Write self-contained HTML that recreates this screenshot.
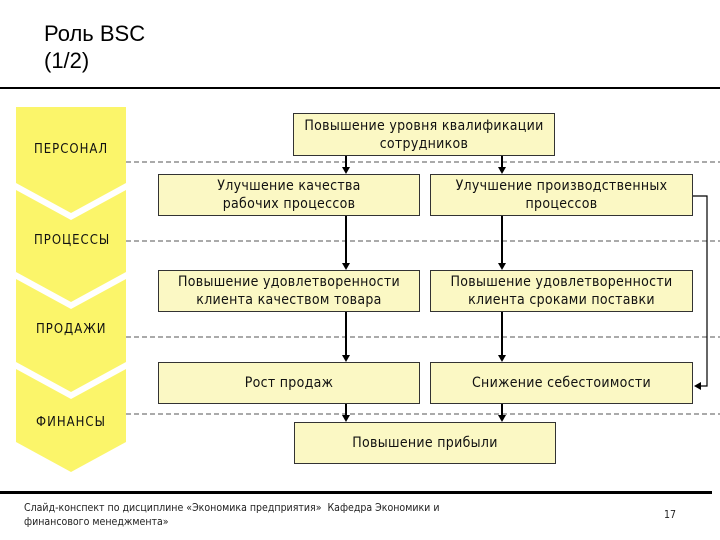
<!DOCTYPE html>
<html><head><meta charset="utf-8"><style>
body{margin:0;width:720px;height:540px;background:#fff;overflow:hidden;position:relative;font-family:"Liberation Sans","DejaVu Sans",sans-serif}
.t{position:absolute;left:44px;font-size:22px;color:#000}
.b{position:absolute;background:#fbf8c4;border:1px solid #333;box-sizing:border-box;display:flex;align-items:center;justify-content:center;text-align:center;font-size:14px;line-height:18px;color:#111;font-family:"DejaVu Sans Condensed","DejaVu Sans",sans-serif;letter-spacing:0.3px;white-space:nowrap}
.l{position:absolute;font-size:13px;color:#111;font-family:"DejaVu Sans Condensed","DejaVu Sans",sans-serif;letter-spacing:1px}
.f{position:absolute;font-size:10.5px;color:#222;font-family:"DejaVu Sans Condensed","DejaVu Sans",sans-serif;letter-spacing:0px;white-space:nowrap}
</style></head><body>
<div class="t" style="top:21px">Роль BSC</div>
<div class="t" style="top:48px">(1/2)</div>
<svg width="720" height="540" style="position:absolute;left:0;top:0">
<rect x="0" y="87" width="720" height="2" fill="#000"/>
<rect x="0" y="491" width="712" height="3" fill="#000"/>
<g fill="#fbf56a">
<polygon points="16,107 126,107 126,183 71,213 16,183"/>
<polygon points="16,190 71,220 126,190 126,272 71,302 16,272"/>
<polygon points="16,279 71,309 126,279 126,362 71,392 16,362"/>
<polygon points="16,369 71,399 126,369 126,442 71,472 16,442"/>
</g>
<g stroke="#555" stroke-dasharray="5,3" stroke-width="1">
<line x1="126" y1="162" x2="720" y2="162"/>
<line x1="126" y1="241" x2="720" y2="241"/>
<line x1="126" y1="337" x2="720" y2="337"/>
<line x1="126" y1="414" x2="720" y2="414"/>
</g>
<g stroke="#000" stroke-width="2">
<line x1="346" y1="156" x2="346" y2="168"/><line x1="502" y1="156" x2="502" y2="168"/>
<line x1="346" y1="216" x2="346" y2="264"/><line x1="502" y1="216" x2="502" y2="264"/>
<line x1="346" y1="312" x2="346" y2="356"/><line x1="502" y1="312" x2="502" y2="356"/>
<line x1="346" y1="404" x2="346" y2="416"/><line x1="502" y1="404" x2="502" y2="416"/>
</g>
<g fill="#000">
<polygon points="342,167 350,167 346,174"/><polygon points="498,167 506,167 502,174"/>
<polygon points="342,263 350,263 346,270"/><polygon points="498,263 506,263 502,270"/>
<polygon points="342,355 350,355 346,362"/><polygon points="498,355 506,355 502,362"/>
<polygon points="342,415 350,415 346,422"/><polygon points="498,415 506,415 502,422"/>
<polygon points="694,386 701,382 701,390"/>
</g>
<polyline points="693,196 707,196 707,386 700,386" fill="none" stroke="#000" stroke-width="1.2"/>
</svg>
<div class="l" style="left:34px;top:142px">ПЕРСОНАЛ</div>
<div class="l" style="left:34px;top:233px">ПРОЦЕССЫ</div>
<div class="l" style="left:36px;top:322px">ПРОДАЖИ</div>
<div class="l" style="left:36px;top:415px">ФИНАНСЫ</div>
<div class="b" style="left:293px;top:113px;width:262px;height:43px">Повышение уровня квалификации<br>сотрудников</div>
<div class="b" style="left:158px;top:174px;width:262px;height:42px">Улучшение качества<br>рабочих процессов</div>
<div class="b" style="left:430px;top:174px;width:263px;height:42px">Улучшение производственных<br>процессов</div>
<div class="b" style="left:158px;top:270px;width:262px;height:42px">Повышение удовлетворенности<br>клиента качеством товара</div>
<div class="b" style="left:430px;top:270px;width:263px;height:42px">Повышение удовлетворенности<br>клиента сроками поставки</div>
<div class="b" style="left:158px;top:362px;width:262px;height:42px">Рост продаж</div>
<div class="b" style="left:430px;top:362px;width:263px;height:42px">Снижение себестоимости</div>
<div class="b" style="left:294px;top:422px;width:262px;height:42px">Повышение прибыли</div>
<div class="f" style="left:24px;top:502px">Слайд-конспект по дисциплине «Экономика предприятия» &nbsp;Кафедра Экономики и</div>
<div class="f" style="left:24px;top:516px">финансового менеджмента»</div>
<div class="f" style="left:664px;top:509px">17</div>
</body></html>
